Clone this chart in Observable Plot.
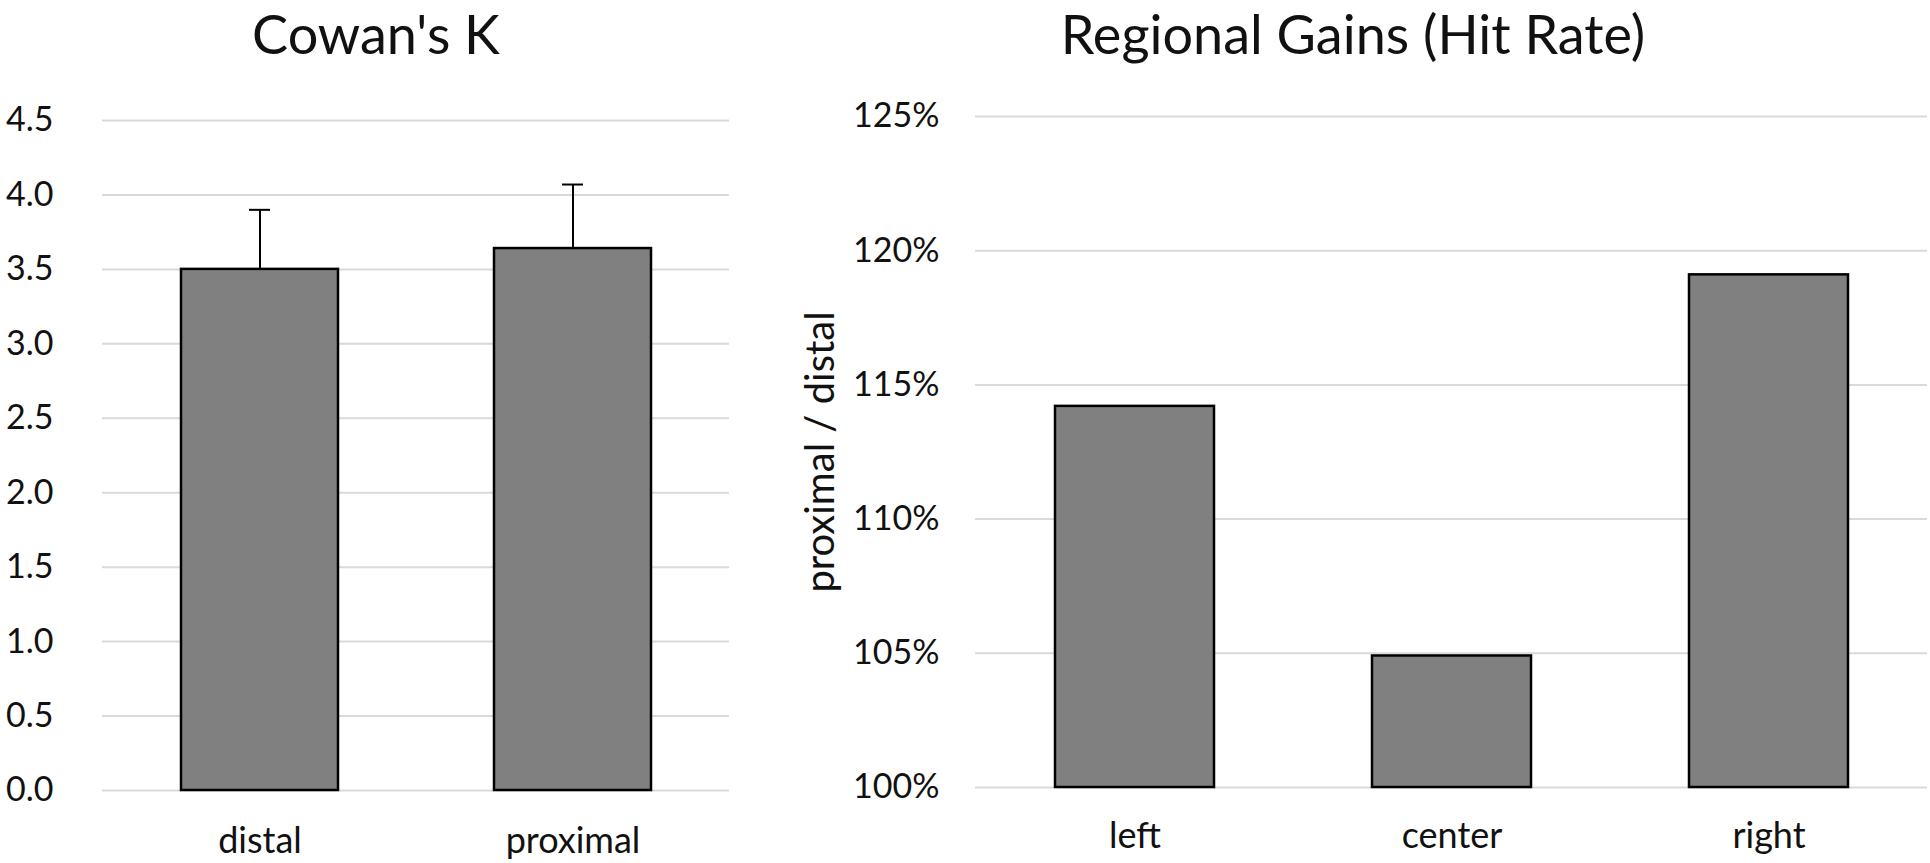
<!DOCTYPE html>
<html>
<head>
<meta charset="utf-8">
<script src="https://cdn.jsdelivr.net/npm/d3@7"></script>
<script src="https://cdn.jsdelivr.net/npm/@observablehq/plot@0.6"></script>
<style>
  html, body { margin: 0; padding: 0; background: #fff; }
  #root { position: relative; width: 1930px; height: 863px; overflow: hidden; background: #fff; font-family: Lato, sans-serif; color: #111; }
  .title { position: absolute; top: 0px; font-size: 54px; line-height: 1.25; white-space: nowrap; transform: translateX(-50%); color: #111; }
  .chart { position: absolute; top: 80px; }
</style>
</head>
<body>
<div id="root">
  <div class="title" style="left:376px">Cowan's K</div>
  <div class="title" style="left:1353px">Regional Gains (Hit Rate)</div>
  <div class="chart" id="left" style="left:0px"></div>
  <div class="chart" id="right" style="left:760px"></div>
</div>
<script>
// ---- Data: Cowan's K ----
const kCategories = ["distal", "proximal"];
const kValues = [3.50, 3.64];
const kErrors = [0.40, 0.43];
const kTicks = [0, 0.5, 1.0, 1.5, 2.0, 2.5, 3.0, 3.5, 4.0, 4.5];

// ---- Data: Regional Gains (Hit Rate) ----
const gainCategories = ["left", "center", "right"];
const gainValues = [1.142, 1.049, 1.191];
const gainTicks = [1.00, 1.05, 1.10, 1.15, 1.20, 1.25];
const gainBaseline = 1.00;
const gainLabel = "proximal / distal";

const kData = kCategories.map((c, i) => ({cat: c, val: kValues[i], err: kErrors[i]}));
const gainData = gainCategories.map((c, i) => ({cat: c, val: gainValues[i], base: gainBaseline}));

const gridStyle = {stroke: "#d9d9d9", strokeOpacity: 1, strokeWidth: 2};
const barStyle = {fill: "#808080", stroke: "#000", strokeWidth: 2.5};

const leftChart = Plot.plot({
  width: 750,
  height: 783,
  marginLeft: 102,
  marginRight: 21,
  marginTop: 40,
  marginBottom: 73,
  style: {fontFamily: "Lato, sans-serif", fontSize: "34px", color: "#111", background: "transparent", overflow: "visible"},
  x: {domain: kCategories, paddingInner: 0.5, paddingOuter: 0.25},
  y: {domain: [0, 4.5]},
  marks: [
    Plot.gridY(kTicks, gridStyle),
    Plot.barY(kData, {x: "cat", y: "val", ...barStyle}),
    Plot.ruleX(kData, {x: "cat", y1: "val", y2: d => d.val + d.err, stroke: "#000", strokeWidth: 2}),
    Plot.tickY(kData, {x: "cat", y: d => d.val + d.err, stroke: "#000", strokeWidth: 2, insetLeft: 68, insetRight: 68}),
    Plot.axisY({ticks: kTicks, tickFormat: d3.format(".1f"), tickSize: 0, tickPadding: 49, fontSize: 34, label: null}),
    Plot.axisX({tickSize: 0, tickPadding: 37, fontSize: 36, label: null})
  ]
});
document.getElementById("left").appendChild(leftChart);

const rightChart = Plot.plot({
  width: 1170,
  height: 783,
  marginLeft: 215,
  marginRight: 3,
  marginTop: 36,
  marginBottom: 76,
  style: {fontFamily: "Lato, sans-serif", fontSize: "34px", color: "#111", background: "transparent", overflow: "visible"},
  x: {domain: gainCategories, paddingInner: 0.5, paddingOuter: 0.25},
  y: {domain: [1.00, 1.25]},
  marks: [
    Plot.gridY(gainTicks, gridStyle),
    Plot.barY(gainData, {x: "cat", y1: "base", y2: "val", ...barStyle}),
    Plot.axisY({ticks: gainTicks, tickFormat: d3.format(".0%"), tickSize: 0, tickPadding: 36, fontSize: 34, label: null}),
    Plot.axisY({ticks: [], tickSize: 0, fontSize: 40,
      label: gainLabel, labelAnchor: "center", labelOffset: 170, labelArrow: "none"}),
    Plot.axisX({tickSize: 0, tickPadding: 35, fontSize: 36, label: null})
  ]
});
document.getElementById("right").appendChild(rightChart);
</script>
</body>
</html>
